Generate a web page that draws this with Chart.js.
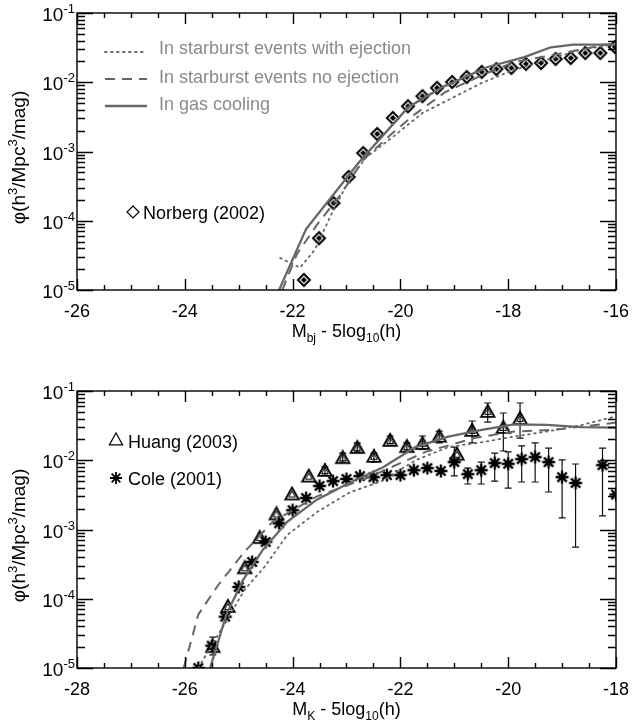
<!DOCTYPE html>
<html>
<head>
<meta charset="utf-8">
<script src="https://cdn.jsdelivr.net/npm/chart.js@4.4.1/dist/chart.umd.min.js"></script>
<style>
  html, body { margin: 0; padding: 0; background: #fff; }
  #wrap { position: relative; width: 640px; height: 721px; }
  canvas { position: absolute; left: 0; }
</style>
</head>
<body>
<div id="wrap">
  <canvas id="bj" width="640" height="360" style="top:0"></canvas>
  <canvas id="kband" width="640" height="361" style="top:360px"></canvas>
</div>
<script>
// ---- b_J band luminosity function ----
const norbergMag = [-21.79, -21.51, -21.24, -20.96, -20.69, -20.43, -20.14, -19.86, -19.59, -19.32, -19.04,
                    -18.77, -18.49, -18.22, -17.94, -17.67, -17.39, -17.12, -16.84, -16.57, -16.29, -16.02];
const norbergPhi = [1.4e-5, 5.6e-5, 1.8e-4, 4.3e-4, 9.5e-4, 1.79e-3, 3.05e-3, 4.5e-3, 6.3e-3, 8.3e-3, 1.01e-2,
                    1.19e-2, 1.41e-2, 1.55e-2, 1.61e-2, 1.84e-2, 1.90e-2, 2.17e-2, 2.24e-2, 2.64e-2, 2.64e-2, 3.23e-2];

const bjCoolMag = [-22.25, -21.75, -20.76, -19.85, -19.22, -18.38, -17.70, -17.21, -16.79, -16.0];
const bjCoolPhi = [1.0e-5, 7.6e-5, 7.1e-4, 4.4e-3, 8.5e-3, 1.66e-2, 2.3e-2, 3.2e-2, 3.5e-2, 3.5e-2];

const bjNoEjMag = [-22.19, -21.92, -21.55, -21.09, -20.69, -20.14, -19.72, -19.17, -18.49, -17.89, -17.03, -16.18, -16.0];
const bjNoEjPhi = [1.0e-5, 3.3e-5, 8.7e-5, 2.5e-4, 7.6e-4, 1.86e-3, 3.5e-3, 7.2e-3, 1.26e-2, 1.95e-2, 2.6e-2, 3.5e-2, 3.5e-2];

const bjEjMag = [-22.23, -21.86, -21.59, -21.27, -20.95, -20.63, -20.14, -19.59, -18.99, -18.49, -17.89, -17.28, -16.66, -16.05];
const bjEjPhi = [2.9e-5, 2.1e-5, 3.8e-5, 1.29e-4, 3.9e-4, 8.3e-4, 1.62e-3, 3.6e-3, 6.2e-3, 9.8e-3, 1.51e-2, 2.1e-2, 2.95e-2, 3.5e-2];

// ---- K band luminosity function ----
const huangMag = [-25.48, -25.2, -24.89, -24.61, -24.3, -24.01, -23.7, -23.4, -23.07, -22.8,
                  -22.49, -22.19, -21.88, -21.59, -21.28, -20.95, -20.67, -20.38, -20.09, -19.78];
const huangPhi = [2.0e-5, 7.6e-5, 2.75e-4, 7.5e-4, 1.65e-3, 3.2e-3, 5.8e-3, 7.0e-3, 1.07e-2, 1.5e-2,
                  1.12e-2, 1.9e-2, 1.55e-2, 1.71e-2, 2.18e-2, 1.2e-2, 2.65e-2, 4.97e-2, 2.92e-2, 3.95e-2];
const huangLo  = [1.55e-5, null, null, null, null, null, null, 6.1e-3, 9.4e-3, 1.32e-2,
                  9.4e-3, 1.72e-2, 1.36e-2, 1.45e-2, 1.78e-2, null, 1.78e-2, 3.56e-2, 1.36e-2, 2.09e-2];
const huangHi  = [2.8e-5, null, null, null, null, null, null, 8.0e-3, 1.27e-2, 1.78e-2,
                  1.27e-2, 2.24e-2, 1.78e-2, 2.24e-2, 2.64e-2, null, 3.69e-2, 6.71e-2, 4.81e-2, 6.71e-2];

const coleMag = [-25.75, -25.5, -25.25, -25.0, -24.75, -24.5, -24.25, -24.0, -23.75, -23.5, -23.25,
                 -23.0, -22.75, -22.5, -22.25, -22.0, -21.75, -21.5, -21.25, -21.0, -20.75,
                 -20.5, -20.25, -20.0, -19.75, -19.5, -19.25, -19.0, -18.75, -18.25, -18.0];
const colePhi = [1.0e-5, 2.1e-5, 5.5e-5, 1.48e-4, 3.4e-4, 6.6e-4, 1.23e-3, 1.9e-3, 2.85e-3, 4.26e-3, 5.0e-3,
                 5.37e-3, 5.9e-3, 5.7e-3, 6.1e-3, 6.1e-3, 7.2e-3, 7.7e-3, 7.0e-3, 9.4e-3, 6.3e-3,
                 7.2e-3, 9.1e-3, 8.9e-3, 1.04e-2, 1.11e-2, 9.4e-3, 5.7e-3, 4.7e-3, 8.5e-3, 3.2e-3];
const coleLo  = [null, null, null, null, null, null, null, null, null, null, null,
                 null, null, null, null, null, null, null, null, 5.93e-3, 4.54e-3,
                 4.54e-3, 5.0e-3, 3.96e-3, 4.85e-3, 4.85e-3, 3.48e-3, 1.47e-3, 5.58e-4, 1.57e-3, null];
const coleHi  = [null, null, null, null, null, null, null, null, null, null, null,
                 null, null, null, null, null, null, null, null, 1.55e-2, 7.7e-3,
                 9.4e-3, 1.27e-2, 1.32e-2, 1.61e-2, 1.78e-2, 1.5e-2, 1.01e-2, 8.83e-3, 1.5e-2, null];

const kCoolMag = [-25.53, -25.23, -24.92, -24.56, -24.10, -23.55, -22.95, -22.32, -21.72, -21.11, -20.49, -19.89, -19.28, -18.66, -18.0];
const kCoolPhi = [1.0e-5, 5.9e-5, 1.86e-4, 5.0e-4, 1.29e-3, 2.7e-3, 4.7e-3, 7.9e-3, 1.55e-2, 2.2e-2, 2.75e-2, 3.3e-2, 3.25e-2, 3.0e-2, 2.95e-2];

const kNoEjMag = [-26.02, -25.75, -25.38, -24.89, -24.37, -23.55, -22.63, -21.53, -20.62, -19.89, -19.15, -18.0];
const kNoEjPhi = [1.0e-5, 5.9e-5, 1.58e-4, 4.8e-4, 1.29e-3, 3.0e-3, 5.5e-3, 1.32e-2, 2.1e-2, 2.6e-2, 2.75e-2, 3.5e-2];

const kEjMag = [-25.75, -25.25, -24.89, -24.52, -24.10, -23.55, -22.95, -22.32, -21.72, -21.11, -20.49, -19.89, -19.28, -18.66, -18.05];
const kEjPhi = [1.0e-5, 4.5e-5, 1.35e-4, 2.9e-4, 8.3e-4, 1.78e-3, 3.4e-3, 5.1e-3, 1.0e-2, 1.55e-2, 1.82e-2, 2.2e-2, 2.6e-2, 3.2e-2, 4.2e-2];

const modelNames = ['In starburst events with ejection', 'In starburst events no ejection', 'In gas cooling'];

const FONT = '"Liberation Sans", Arial, Helvetica, sans-serif';
const LINE_GREY = '#666666';
const TEXT_GREY = '#8a8a8a';
const DOT = [1.6, 4.4];
const DASH = [10, 7];

function pts(xs, ys) {
  return xs.map((v, i) => ({ x: v, y: ys[i] }));
}

// text with sub/superscript pieces: [string, '' | 'sub' | 'sup']
function richText(ctx, parts, x, y, size, align) {
  const small = Math.round(size * 0.68);
  let w = 0;
  parts.forEach(p => {
    ctx.font = (p[1] ? small : size) + 'px ' + FONT;
    w += ctx.measureText(p[0]).width;
  });
  let cx = align === 'center' ? x - w / 2 : align === 'right' ? x - w : x;
  ctx.textAlign = 'left';
  ctx.textBaseline = 'alphabetic';
  parts.forEach(p => {
    ctx.font = (p[1] ? small : size) + 'px ' + FONT;
    const dy = p[1] === 'sup' ? -size * 0.42 : p[1] === 'sub' ? size * 0.28 : 0;
    ctx.fillText(p[0], cx, y + dy);
    cx += ctx.measureText(p[0]).width;
  });
}

// ---- marker shapes ----
function makeMarker(size, draw) {
  const c = document.createElement('canvas');
  c.width = c.height = size;
  const g = c.getContext('2d');
  g.translate(size / 2, size / 2);
  draw(g);
  return c;
}

function diamondPath(g, r) {
  g.beginPath();
  g.moveTo(0, -r); g.lineTo(r, 0); g.lineTo(0, r); g.lineTo(-r, 0);
  g.closePath();
}
function trianglePath(g, r) {
  g.beginPath();
  g.moveTo(0, -r); g.lineTo(r * 0.95, r * 0.7); g.lineTo(-r * 0.95, r * 0.7);
  g.closePath();
}
function starPath(g, r) {
  const d = r * 0.72;
  g.beginPath();
  g.moveTo(0, -r); g.lineTo(0, r);
  g.moveTo(-r, 0); g.lineTo(r, 0);
  g.moveTo(-d, -d); g.lineTo(d, d);
  g.moveTo(-d, d); g.lineTo(d, -d);
}

const diamondMark = makeMarker(16, g => {
  g.strokeStyle = '#000'; g.fillStyle = '#fff'; g.lineWidth = 2;
  diamondPath(g, 6); g.fill(); g.stroke();
  g.fillStyle = '#000';
  diamondPath(g, 3); g.fill();
});
const triangleMark = makeMarker(18, g => {
  g.strokeStyle = '#000'; g.lineWidth = 1.9;
  trianglePath(g, 7); g.stroke();
  g.lineWidth = 1;
  trianglePath(g, 3.5); g.stroke();
});
const starMark = makeMarker(18, g => {
  g.strokeStyle = '#000'; g.lineWidth = 2.3;
  starPath(g, 6.5); g.stroke();
});

// ---- IDL style frame, ticks and labels ----
function framePlugin(cfg) {
  return {
    id: 'frame' + cfg.name,
    afterDraw(chart) {
      const { ctx, chartArea: a, scales: { x, y } } = chart;
      ctx.save();
      ctx.strokeStyle = '#000';
      ctx.lineWidth = 1.4;
      ctx.strokeRect(a.left, a.top, a.right - a.left, a.bottom - a.top);

      ctx.beginPath();
      for (let v = x.min; v <= x.max + 1e-9; v += 0.5) {
        const px = Math.round(x.getPixelForValue(v)) + 0.5;
        const len = Math.abs(v % 2) < 1e-9 ? 11 : 5;
        ctx.moveTo(px, a.bottom); ctx.lineTo(px, a.bottom - len);
        ctx.moveTo(px, a.top); ctx.lineTo(px, a.top + len);
      }
      for (let d = -5; d <= -1; d++) {
        for (let k = 1; k <= 9; k++) {
          if (d === -1 && k > 1) break;
          const py = Math.round(y.getPixelForValue(k * Math.pow(10, d))) + 0.5;
          const len = k === 1 ? 16 : 8;
          ctx.moveTo(a.left, py); ctx.lineTo(a.left + len, py);
          ctx.moveTo(a.right, py); ctx.lineTo(a.right - len, py);
        }
      }
      ctx.stroke();

      ctx.fillStyle = '#000';
      for (let d = -5; d <= -1; d++) {
        const py = y.getPixelForValue(Math.pow(10, d));
        richText(ctx, [['10', ''], [String(d), 'sup']], a.left - 2, py + 8, 19, 'right');
      }

      richText(ctx, cfg.xTitle, (a.left + a.right) / 2, a.bottom + 47, 18, 'center');

      ctx.save();
      ctx.translate(25, (a.top + a.bottom) / 2 + 6);
      ctx.rotate(-Math.PI / 2);
      richText(ctx, [['\u03c6(h', ''], ['3', 'sup'], ['/Mpc', ''], ['3', 'sup'], ['/mag)', '']], 0, 0, 19, 'center');
      ctx.restore();

      cfg.legend(ctx, a);
      ctx.restore();
    }
  };
}

function errorBarPlugin(name, sets) {
  return {
    id: 'errbars' + name,
    beforeDatasetsDraw(chart) {
      const { ctx, chartArea: a, scales: { x, y } } = chart;
      ctx.save();
      ctx.beginPath();
      ctx.rect(a.left, a.top, a.right - a.left, a.bottom - a.top);
      ctx.clip();
      ctx.strokeStyle = '#111';
      ctx.lineWidth = 1.2;
      ctx.beginPath();
      sets.forEach(s => {
        s.mag.forEach((m, i) => {
          if (s.lo[i] == null) return;
          const px = x.getPixelForValue(m);
          const y0 = y.getPixelForValue(s.lo[i]);
          const y1 = y.getPixelForValue(s.hi[i]);
          ctx.moveTo(px, y0); ctx.lineTo(px, y1);
          ctx.moveTo(px - 3.5, y0); ctx.lineTo(px + 3.5, y0);
          ctx.moveTo(px - 3.5, y1); ctx.lineTo(px + 3.5, y1);
        });
      });
      ctx.stroke();
      ctx.restore();
    }
  };
}

function modelSets(ej, noej, cool) {
  const base = { showLine: true, pointRadius: 0, borderColor: LINE_GREY, backgroundColor: LINE_GREY,
                 borderWidth: 2, tension: 0, clip: 0, fill: false };
  return [
    Object.assign({}, base, { label: modelNames[0], data: ej, borderDash: DOT, borderCapStyle: 'round', borderWidth: 1.8 }),
    Object.assign({}, base, { label: modelNames[1], data: noej, borderDash: DASH }),
    Object.assign({}, base, { label: modelNames[2], data: cool, borderWidth: 2.3 })
  ];
}

function chartOptions(xmin, xmax, padTop, axisHeight) {
  return {
    responsive: false,
    animation: false,
    devicePixelRatio: 1,
    layout: { padding: { left: 0, right: 17, top: padTop, bottom: 0 } },
    plugins: { legend: { display: false }, tooltip: { enabled: false } },
    scales: {
      x: {
        type: 'linear', min: xmin, max: xmax,
        grid: { display: false, drawTicks: false },
        border: { display: false },
        ticks: { stepSize: 2, autoSkip: false, maxRotation: 0, padding: 11, color: '#000',
                 font: { family: FONT, size: 18 } },
        afterFit: s => { s.height = axisHeight; }
      },
      y: {
        type: 'logarithmic', min: 1e-5, max: 1e-1,
        grid: { display: false, drawTicks: false },
        border: { display: false },
        ticks: { display: false },
        afterFit: s => { s.width = 77; }
      }
    }
  };
}

function modelLegend(ctx) {
  const rows = [[DOT, 1.8, 52, 54], [DASH, 2, 79, 83], [[], 2.3, 106, 110]];
  ctx.strokeStyle = LINE_GREY;
  rows.forEach((r, i) => {
    ctx.setLineDash(r[0]);
    ctx.lineWidth = r[1];
    ctx.lineCap = i === 0 ? 'round' : 'butt';
    ctx.beginPath(); ctx.moveTo(105, r[2]); ctx.lineTo(147, r[2]); ctx.stroke();
    ctx.setLineDash([]);
    ctx.fillStyle = TEXT_GREY;
    ctx.font = '18px ' + FONT;
    ctx.textAlign = 'left'; ctx.textBaseline = 'alphabetic';
    ctx.fillText(modelNames[i], 159, r[3]);
  });
}

// ---- top panel ----
new Chart(document.getElementById('bj'), {
  type: 'scatter',
  data: {
    datasets: [
      ...modelSets(pts(bjEjMag, bjEjPhi), pts(bjNoEjMag, bjNoEjPhi), pts(bjCoolMag, bjCoolPhi)),
      { label: 'Norberg (2002)', data: pts(norbergMag, norbergPhi), pointStyle: diamondMark,
        pointRadius: 6, showLine: false, clip: 0 }
    ]
  },
  options: chartOptions(-26, -16, 13, 70),
  plugins: [framePlugin({
    name: 'bj',
    xTitle: [['M', ''], ['bj', 'sub'], [' - 5log', ''], ['10', 'sub'], ['(h)', '']],
    legend(ctx) {
      modelLegend(ctx);
      ctx.strokeStyle = '#000'; ctx.lineWidth = 1.2;
      ctx.save(); ctx.translate(133, 212); diamondPath(ctx, 6); ctx.stroke(); ctx.restore();
      ctx.fillStyle = '#000';
      ctx.font = '18px ' + FONT;
      ctx.fillText('Norberg (2002)', 143, 218.5);
    }
  })]
});

// ---- bottom panel ----
new Chart(document.getElementById('kband'), {
  type: 'scatter',
  data: {
    datasets: [
      ...modelSets(pts(kEjMag, kEjPhi), pts(kNoEjMag, kNoEjPhi), pts(kCoolMag, kCoolPhi)),
      { label: 'Huang (2003)', data: pts(huangMag, huangPhi), pointStyle: triangleMark,
        pointRadius: 7, showLine: false, clip: 0 },
      { label: 'Cole (2001)', data: pts(coleMag, colePhi), pointStyle: starMark,
        pointRadius: 7, showLine: false, clip: 0 }
    ]
  },
  options: chartOptions(-28, -18, 31, 53),
  plugins: [
    errorBarPlugin('k', [{ mag: huangMag, lo: huangLo, hi: huangHi }, { mag: coleMag, lo: coleLo, hi: coleHi }]),
    framePlugin({
      name: 'k',
      xTitle: [['M', ''], ['K', 'sub'], [' - 5log', ''], ['10', 'sub'], ['(h)', '']],
      legend(ctx) {
        ctx.strokeStyle = '#000';
        ctx.lineWidth = 1.2;
        ctx.save(); ctx.translate(116, 80); trianglePath(ctx, 7); ctx.stroke(); ctx.restore();
        ctx.save(); ctx.translate(116, 118); ctx.lineWidth = 1.8; starPath(ctx, 6); ctx.stroke(); ctx.restore();
        ctx.fillStyle = '#000';
        ctx.font = '18px ' + FONT;
        ctx.textAlign = 'left'; ctx.textBaseline = 'alphabetic';
        ctx.fillText('Huang (2003)', 128, 88);
        ctx.fillText('Cole (2001)', 128, 124.5);
      }
    })
  ]
});
</script>
</body>
</html>
